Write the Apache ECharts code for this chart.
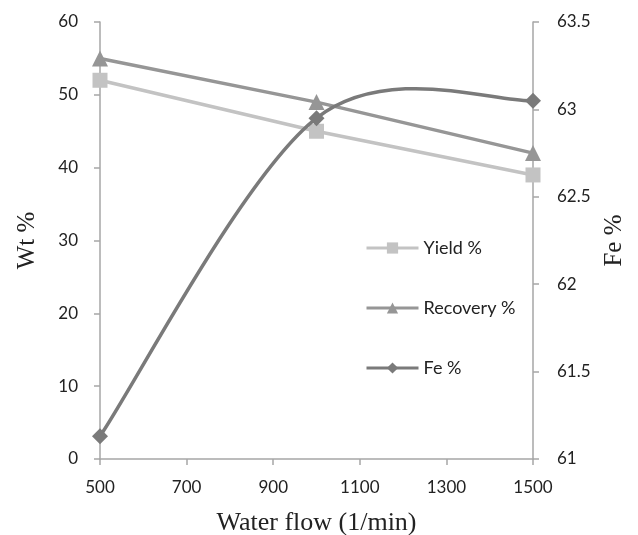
<!DOCTYPE html>
<html><head><meta charset="utf-8">
<script src="https://cdn.jsdelivr.net/npm/echarts@6/dist/echarts.min.js"></script>
<style>html,body{margin:0;padding:0;background:#fff}#c{width:638px;height:535px}</style>
</head><body><div id="c"></div>
<script>
const waterFlow = [500, 1000, 1500];
const yieldPct = [52, 45, 39];
const recoveryPct = [55, 49, 42];
const fePct = [61.13, 62.95, 63.05];
const xTicks = [500, 700, 900, 1100, 1300, 1500];

const sans = 'Lato';
const serif = 'Liberation Serif';
const axisColor = '#a6a6a6';
const yieldColor = '#c3c3c3';
const recColor = '#969696';
const feColor = '#7a7a7a';
const pair = (xs, ys) => xs.map((x, i) => [x, ys[i]]);

// Spreadsheet-style smoothed curve (Catmull-Rom, tension 1/6) through the Fe points,
// with the points placed by the chart's own axes (api.coord).
function feCurve(params, api) {
  if (params.dataIndex !== 0) return null;
  const P = waterFlow.map((x, i) => api.coord([x, fePct[i]]));
  const n = P.length;
  const children = [];
  for (let i = 0; i < n - 1; i++) {
    const p0 = P[Math.max(i - 1, 0)], p1 = P[i], p2 = P[i + 1], p3 = P[Math.min(i + 2, n - 1)];
    children.push({
      type: 'bezierCurve',
      shape: {
        x1: p1[0], y1: p1[1], x2: p2[0], y2: p2[1],
        cpx1: p1[0] + (p2[0] - p0[0]) / 6, cpy1: p1[1] + (p2[1] - p0[1]) / 6,
        cpx2: p2[0] - (p3[0] - p1[0]) / 6, cpy2: p2[1] - (p3[1] - p1[1]) / 6
      },
      style: { stroke: feColor, lineWidth: 3.5, fill: null }
    });
  }
  return { type: 'group', children };
}

const labelFmt = v => String(v);

const chart = echarts.init(document.getElementById('c'));
chart.setOption({
  animation: false,
  backgroundColor: '#fff',
  grid: { left: 100, right: 105, top: 22, bottom: 76, outerBoundsMode: 'none', containLabel: false },
  legend: {
    orient: 'vertical', left: 360, top: 234,
    itemWidth: 52, itemHeight: 14, itemGap: 42,
    textStyle: { fontFamily: sans, fontSize: 18, color: '#222' },
    data: [
      { name: 'Yield %', lineStyle: { color: yieldColor, width: 3, opacity: 1 } },
      { name: 'Recovery %', lineStyle: { color: recColor, width: 3, opacity: 1 } },
      { name: 'Fe %', lineStyle: { color: feColor, width: 3, opacity: 1 } }
    ]
  },
  xAxis: {
    type: 'value', min: 500, max: 1500,
    name: 'Water flow (1/min)', nameLocation: 'middle', nameGap: 51,
    nameTextStyle: { fontFamily: serif, fontSize: 26, color: '#222' },
    axisLine: { show: true, lineStyle: { color: axisColor, width: 1.5 } },
    axisTick: { show: true, length: 6, customValues: xTicks, lineStyle: { color: axisColor, width: 1.5 } },
    axisLabel: { customValues: xTicks, formatter: labelFmt, fontFamily: sans, fontSize: 17, color: '#222', margin: 20 },
    splitLine: { show: false }
  },
  yAxis: [{
    type: 'value', min: 0, max: 60, interval: 10,
    name: 'Wt %', nameLocation: 'middle', nameGap: 60, nameRotate: 90,
    nameTextStyle: { fontFamily: serif, fontSize: 25, color: '#222' },
    axisLine: { show: true, lineStyle: { color: axisColor, width: 1.5 } },
    axisTick: { show: true, length: 6, lineStyle: { color: axisColor, width: 1.5 } },
    axisLabel: { formatter: labelFmt, fontFamily: sans, fontSize: 17, color: '#222', margin: 22 },
    splitLine: { show: false }
  }, {
    type: 'value', min: 61, max: 63.5, interval: 0.5, position: 'right',
    name: 'Fe %', nameLocation: 'middle', nameGap: 68, nameRotate: 90,
    nameTextStyle: { fontFamily: serif, fontSize: 25, color: '#222' },
    axisLine: { show: true, lineStyle: { color: axisColor, width: 1.5 } },
    axisTick: { show: true, length: 6, lineStyle: { color: axisColor, width: 1.5 } },
    axisLabel: { formatter: labelFmt, fontFamily: sans, fontSize: 17, color: '#222', margin: 24 },
    splitLine: { show: false }
  }],
  series: [{
    name: 'Yield %', type: 'line', data: pair(waterFlow, yieldPct),
    symbol: 'rect', symbolSize: 15, z: 2,
    lineStyle: { color: yieldColor, width: 3.5 }, itemStyle: { color: yieldColor }
  }, {
    name: 'Recovery %', type: 'line', data: pair(waterFlow, recoveryPct),
    symbol: 'triangle', symbolSize: 16, z: 3,
    lineStyle: { color: recColor, width: 3.5 }, itemStyle: { color: recColor }
  }, {
    name: 'Fe curve', type: 'custom', yAxisIndex: 1, z: 4,
    data: pair(waterFlow, fePct), renderItem: feCurve, silent: true
  }, {
    name: 'Fe %', type: 'line', yAxisIndex: 1, data: pair(waterFlow, fePct),
    symbol: 'diamond', symbolSize: 16, z: 5,
    lineStyle: { color: feColor, width: 3, opacity: 0 }, itemStyle: { color: feColor }
  }]
});
</script></body></html>
